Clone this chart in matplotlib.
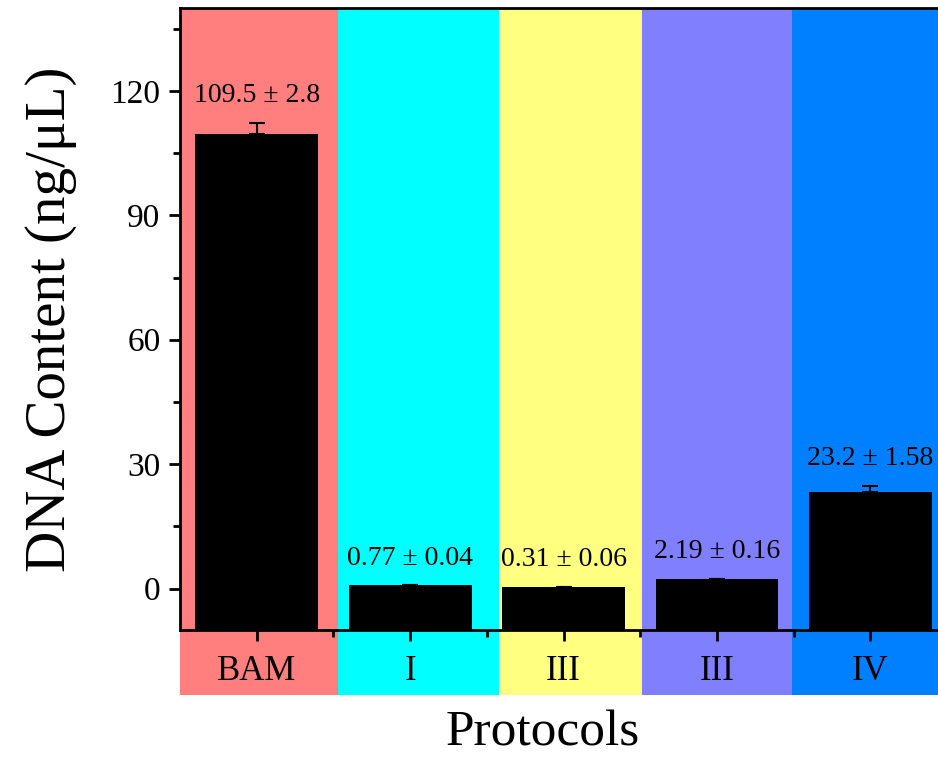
import matplotlib.pyplot as plt
import numpy as np

protocols = ['BAM', 'I', 'III', 'III', 'IV']
dna = [109.5, 0.77, 0.31, 2.19, 23.2]
err = [2.8, 0.04, 0.06, 0.16, 1.58]
labels = ['109.5 ± 2.8', '0.77 ± 0.04', '0.31 ± 0.06', '2.19 ± 0.16', '23.2 ± 1.58']
band_colors = ['#FF7F7F', '#00FFFF', '#FFFF80', '#8080FF', '#0080FF']
band_edges = [-0.5, 0.53, 1.58, 2.51, 3.49, 4.6]

plt.rcParams['font.family'] = ['Liberation Serif', 'DejaVu Serif']

fig = plt.figure(figsize=(9.38, 7.57), dpi=100)
ax = fig.add_axes([0.1919, 0.1678, 0.8081, 0.8216])

x = np.arange(len(protocols))
ymin, ymax = -10, 140

# colored bands, running down under the tick labels
for i, c in enumerate(band_colors):
    ax.axvspan(band_edges[i], band_edges[i + 1], ymin=-0.105, ymax=1,
               color=c, lw=0, clip_on=False, zorder=0)

ax.bar(x, np.array(dna) - ymin, bottom=ymin, width=0.8, color='black', zorder=2)
ax.errorbar(x, dna, yerr=[np.zeros(len(err)), err], fmt='none', ecolor='black',
            elinewidth=1.5, capsize=6, capthick=1.5, zorder=3)

for xi, v, e, t in zip(x, dna, err, labels):
    ax.text(xi, v + e + 3.5, t, ha='center', va='bottom', fontsize=20)

ax.set_xlim(-0.5, 4.44)
ax.set_ylim(ymin, ymax)
ax.set_yticks([0, 30, 60, 90, 120])
ax.set_yticks([15, 45, 75, 105, 135], minor=True)
ax.set_xticks(x)
ax.set_xticks(x[:-1] + 0.5, minor=True)
ax.set_xticklabels(protocols)

ax.tick_params(which='major', direction='out', length=8, width=2, labelsize=24)
ax.tick_params(which='minor', direction='out', length=5, width=2)
ax.tick_params(axis='y', pad=6)
ax.tick_params(axis='x', labelsize=25, pad=10)
for s in ['left', 'bottom', 'top']:
    ax.spines[s].set_linewidth(2)
ax.spines['right'].set_visible(False)

ax.set_ylabel('DNA Content (ng/μL)', fontsize=41, labelpad=24)
ax.set_xlabel('Protocols', fontsize=37, labelpad=16)
ax.xaxis.label.set_x(0.479)

plt.savefig('out.png', dpi=100)
